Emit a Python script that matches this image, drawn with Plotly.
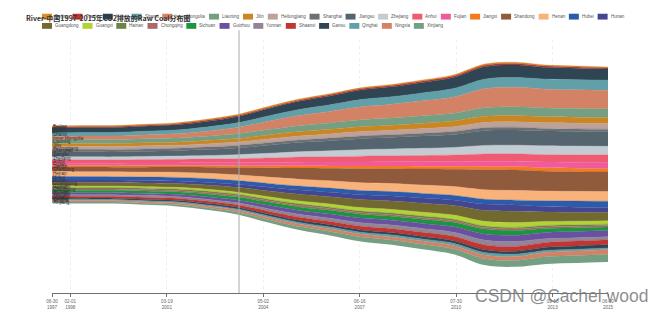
import plotly.graph_objects as go

# ---------------- data ----------------
years = list(range(1997, 2016))
dates = [f"{y}-06-30" for y in years]

provinces = ["Beijing", "Tianjin", "Hebei", "Shanxi", "Inner Mongolia", "Liaoning", "Jilin",
             "Heilongjiang", "Shanghai", "Jiangsu", "Zhejiang", "Anhui", "Fujian", "Jiangxi",
             "Shandong", "Henan", "Hubei", "Hunan", "Guangdong", "Guangxi", "Hainan", "Chongqing",
             "Sichuan", "Guizhou", "Yunnan", "Shaanxi", "Gansu", "Qinghai", "Ningxia", "Xinjiang"]

beijing = [10, 10, 10, 10, 10, 10, 10, 11, 11, 11, 11, 11, 11, 12, 12, 12, 10, 9, 8]
tianjin = [10, 10, 10, 10, 10, 11, 11, 12, 12, 13, 13, 13, 14, 14, 15, 15, 13, 13, 12]
hebei = [50, 51, 51, 52, 54, 58, 64, 74, 84, 90, 98, 102, 108, 114, 128, 130, 121, 118, 115]
shanxi = [35, 36, 36, 37, 38, 42, 47, 55, 62, 68, 74, 77, 82, 87, 98, 100, 103, 104, 105]
inner_mongolia = [35, 37, 37, 40, 43, 52, 65, 85, 104, 118, 134, 142, 154, 167, 195, 200, 194, 192, 190]
liaoning = [40, 41, 41, 42, 43, 45, 49, 55, 61, 65, 70, 73, 76, 80, 88, 90, 90, 90, 90]
jilin = [30, 30, 31, 31, 32, 34, 36, 41, 45, 48, 51, 53, 55, 58, 64, 65, 62, 61, 60]
heilongjiang = [30, 30, 30, 31, 31, 33, 35, 38, 41, 43, 45, 46, 48, 50, 54, 55, 58, 59, 60]
shanghai = [25, 25, 25, 25, 25, 26, 26, 27, 27, 28, 28, 28, 29, 29, 30, 30, 27, 26, 25]
jiangsu = [50, 51, 51, 53, 55, 61, 69, 82, 94, 103, 113, 118, 126, 134, 152, 155, 152, 151, 150]
zhejiang = [30, 31, 31, 32, 33, 36, 41, 48, 55, 60, 66, 69, 73, 78, 88, 90, 90, 90, 90]
anhui = [35, 35, 35, 36, 37, 39, 42, 47, 52, 55, 59, 61, 64, 67, 74, 75, 75, 75, 75]
fujian = [25, 25, 25, 26, 27, 28, 30, 34, 38, 40, 43, 45, 47, 49, 54, 55, 61, 63, 65]
jiangxi = [15, 15, 15, 16, 16, 17, 19, 21, 23, 25, 27, 28, 29, 31, 34, 35, 35, 35, 35]
shandong = [45, 47, 47, 50, 53, 62, 75, 95, 114, 128, 144, 152, 164, 177, 205, 210, 204, 202, 200]
henan = [50, 51, 51, 52, 53, 55, 59, 65, 71, 75, 80, 83, 86, 90, 98, 100, 100, 100, 100]
hubei = [35, 35, 35, 35, 36, 37, 38, 40, 41, 43, 44, 45, 46, 47, 50, 50, 59, 62, 65]
hunan = [25, 25, 25, 26, 27, 29, 32, 37, 42, 45, 49, 51, 54, 57, 64, 65, 56, 53, 50]
guangdong = [35, 36, 36, 37, 39, 43, 49, 59, 69, 75, 83, 87, 93, 99, 113, 115, 97, 91, 85]
guangxi = [15, 15, 15, 16, 17, 19, 21, 26, 30, 33, 36, 38, 40, 43, 49, 50, 41, 38, 35]
hainan = [15, 15, 15, 15, 15, 15, 15, 15, 16, 16, 16, 16, 16, 16, 15, 15, 15, 15, 15]
chongqing = [15, 15, 14, 14, 14, 15, 15, 15, 16, 16, 16, 16, 16, 16, 16, 15, 15, 15, 15]
sichuan = [25, 25, 25, 26, 26, 28, 30, 33, 36, 38, 40, 41, 43, 45, 49, 50, 41, 38, 35]
guizhou = [20, 20, 20, 21, 22, 25, 28, 34, 39, 43, 47, 49, 52, 56, 64, 65, 65, 65, 65]
yunnan = [15, 15, 15, 16, 17, 19, 21, 26, 30, 33, 36, 38, 40, 43, 49, 50, 38, 34, 30]
shaanxi = [20, 20, 20, 21, 22, 23, 25, 29, 33, 35, 38, 40, 42, 44, 49, 50, 50, 50, 50]
gansu = [15, 15, 15, 15, 16, 17, 18, 20, 21, 23, 24, 25, 26, 27, 30, 30, 33, 34, 35]
qinghai = [10, 10, 10, 10, 11, 12, 13, 15, 16, 18, 19, 20, 21, 22, 25, 25, 19, 17, 15]
ningxia = [15, 15, 15, 16, 16, 18, 20, 23, 26, 28, 30, 31, 33, 35, 39, 40, 46, 48, 50]
xinjiang = [15, 16, 16, 17, 18, 20, 24, 30, 36, 40, 45, 48, 51, 55, 64, 65, 74, 77, 80]

series = [beijing, tianjin, hebei, shanxi, inner_mongolia, liaoning, jilin, heilongjiang,
          shanghai, jiangsu, zhejiang, anhui, fujian, jiangxi, shandong, henan, hubei, hunan,
          guangdong, guangxi, hainan, chongqing, sichuan, guizhou, yunnan, shaanxi, gansu,
          qinghai, ningxia, xinjiang]

colors = ["#d4902a", "#c23531", "#2f4554", "#61a0a8", "#d48265", "#749f83", "#ca8622", "#bda29a",
          "#6e7074", "#546570", "#c4ccd3", "#f05b72", "#ef5b9c", "#f47920", "#905a3d", "#fab27b",
          "#2a5caa", "#444693", "#726930", "#b2d235", "#6d8346", "#ac6767", "#1d953f", "#6950a1",
          "#918597", "#c23531", "#2f4554", "#61a0a8", "#d48265", "#749f83"]

tick_dates = ["1997-06-30", "1998-02-01", "2001-03-19", "2004-05-02", "2007-06-16",
              "2010-07-30", "2013-09-13", "2015-06-30"]
tick_text = ["06-30<br>1997", "02-01<br>1998", "03-19<br>2001", "05-02<br>2004",
             "06-16<br>2007", "07-30<br>2010", "09-13<br>2013", "06-30<br>2015"]

title_text = "River-中国1997-2015年CO2排放的Raw Coal分布图"
pointer_date = "2003-07-20"
watermark = "CSDN @Cachel wood"

# ---------------- layout constants ----------------
W, H = 665, 322
ML, MR, MT, MB = 52, 57, 40, 22
PW, PH = W - ML - MR, H - MT - MB


def px_x(px):
    return (px - ML) / PW


def px_y(py):
    return (H - MB - py) / PH


CW = {'a': 556, 'b': 556, 'c': 500, 'd': 556, 'e': 556, 'f': 278, 'g': 556, 'h': 556, 'i': 222,
      'j': 222, 'k': 500, 'l': 222, 'm': 833, 'n': 556, 'o': 556, 'p': 556, 'q': 556, 'r': 333,
      's': 500, 't': 278, 'u': 556, 'v': 500, 'w': 722, 'x': 500, 'y': 500, 'z': 500, ' ': 278,
      'B': 667, 'T': 611, 'H': 722, 'S': 667, 'I': 278, 'M': 833, 'L': 556, 'J': 500, 'Z': 611,
      'A': 667, 'F': 611, 'G': 778, 'C': 722, 'Y': 667, 'Q': 778, 'N': 722, 'X': 667}


def text_w(s, size):
    return sum(CW.get(ch, 556) for ch in s) / 1000 * size


# ---------------- traces ----------------
n = len(years)
totals = [sum(s[i] for s in series) for i in range(n)]
lower = [-t / 2 for t in totals]

fig = go.Figure()
fig.add_trace(go.Scatter(x=dates, y=lower, mode="lines", line=dict(width=0, shape="spline"),
                         hoverinfo="skip", showlegend=False))
cum = list(lower)
mids_first = {}
for idx in range(len(series) - 1, -1, -1):
    vals = series[idx]
    prev0 = cum[0]
    cum = [cum[i] + vals[i] for i in range(n)]
    mids_first[idx] = prev0 + vals[0] / 2
    fig.add_trace(go.Scatter(x=dates, y=cum, mode="lines", name=provinces[idx],
                             line=dict(width=0.4, color=colors[idx], shape="spline", smoothing=0.9),
                             fill="tonexty", fillcolor=colors[idx], showlegend=False,
                             hoverinfo="skip"))

annotations = []
shapes = []

# layer labels at the left
for idx, name in enumerate(provinces):
    annotations.append(dict(x=dates[0], y=mids_first[idx], xref="x", yref="y", text=name,
                            showarrow=False, xanchor="left", yanchor="middle", borderpad=0,
                            font=dict(size=4.6, color="#333", family="Liberation Sans")))

# legend (two rows)
LF = 4.5
rows = [provinces[:18], provinces[18:]]
row_y = [16, 25.5]
k = 0
for r, names in enumerate(rows):
    x = 42
    for name in names:
        shapes.append(dict(type="rect", xref="paper", yref="paper",
                           x0=px_x(x), x1=px_x(x + 10), y0=px_y(row_y[r] + 3), y1=px_y(row_y[r] - 3),
                           fillcolor=colors[k], line=dict(width=0), layer="above"))
        annotations.append(dict(x=px_x(x + 12), y=px_y(row_y[r]), xref="paper", yref="paper",
                                text=name, showarrow=False, xanchor="left", yanchor="middle",
                                borderpad=0, font=dict(size=LF, color="#555", family="Liberation Sans")))
        x += 12 + text_w(name, LF) + 5
        k += 1

# title
annotations.append(dict(x=px_x(25), y=px_y(17), xref="paper", yref="paper", text="<b>" + title_text + "</b>",
                        showarrow=False, xanchor="left", yanchor="middle", borderpad=0,
                        font=dict(size=7, color="#333", family="Noto Sans CJK SC")))

# watermark
annotations.append(dict(x=px_x(474), y=px_y(303), xref="paper", yref="paper", text=watermark,
                        showarrow=False, xanchor="left", yanchor="middle", borderpad=0,
                        font=dict(size=17.5, color="rgba(120,120,120,0.85)", family="Liberation Sans")))

# axis pointer line
shapes.append(dict(type="line", xref="x", yref="paper", x0=pointer_date, x1=pointer_date,
                   y0=0, y1=px_y(30), line=dict(color="#aaa", width=1)))

fig.update_layout(
    width=W, height=H, margin=dict(l=ML, r=MR, t=MT, b=MB),
    paper_bgcolor="white", plot_bgcolor="white",
    annotations=annotations, shapes=shapes, showlegend=False,
    xaxis=dict(type="date", range=[dates[0], dates[-1]], tickvals=tick_dates, ticktext=tick_text,
               showline=True, linecolor="#6e7079", linewidth=1, ticks="outside", ticklen=3,
               tickcolor="#6e7079", tickfont=dict(size=4.6, color="#666", family="Liberation Sans"),
               showgrid=True, gridcolor="#efefef", griddash="dot", gridwidth=0.6, zeroline=False,
               fixedrange=True),
    yaxis=dict(visible=False, range=[-1320, 1280], fixedrange=True),
)

fig.write_html("out.html")
